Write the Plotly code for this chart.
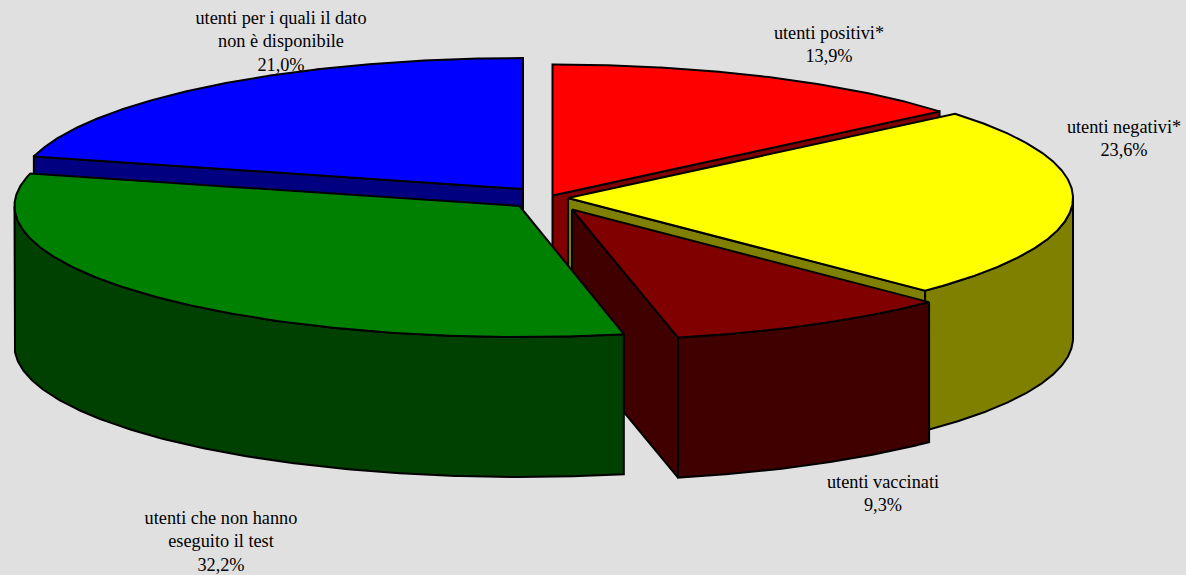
import numpy as np
import plotly.graph_objects as go

# --- data ---
categories = ["utenti positivi*", "utenti negativi*", "utenti vaccinati",
              "utenti che non hanno eseguito il test",
              "utenti per i quali il dato non è disponibile"]
shares = [13.9, 23.6, 9.3, 32.2, 21.0]
share_labels = ["13,9%", "23,6%", "9,3%", "32,2%", "21,0%"]
top_colors = ["#FF0000", "#FFFF00", "#800000", "#008000", "#0000FF"]
wall_colors = ["#800000", "#808000", "#400000", "#004000", "#000080"]

# --- pie geometry (pixels, degrees) ---
apex_x = [552.5, 568, 572, 519.5, 523]
apex_y = [195.5, 198, 209.5, 206, 189]
RX, RY, DEPTH = 505, 131, 140
start_nudge = [0, 0, 0, -0.4, 0]
end_nudge = [0, 0, -0.6, 0, 0]
draw_order = [4, 0, 1, 2, 3]

# --- label placement (pixels) ---
label_lines = [
    ["utenti positivi*", "13,9%"],
    ["utenti negativi*", "23,6%"],
    ["utenti vaccinati", "9,3%"],
    ["utenti che non hanno", "eseguito il test", "32,2%"],
    ["utenti per i quali il dato", "non è disponibile", "21,0%"],
]
label_x = [829, 1124, 883, 221, 281]
label_y = [34, 128, 483, 519, 19]
LINE_STEP = 23.7

fig = go.Figure()

# labels first: the pie paints over them where they touch
tx, ty, tt = [], [], []
for lines, x0, y0 in zip(label_lines, label_x, label_y):
    for i, s in enumerate(lines):
        tx.append(x0); ty.append(y0 + i * LINE_STEP); tt.append(s)
fig.add_trace(go.Scatter(x=tx, y=ty, text=tt, mode="text", textposition="middle center",
                         textfont=dict(family="Liberation Serif", size=18.3, color="#000000"),
                         hoverinfo="skip", showlegend=False))


def poly(xs, ys, color):
    fig.add_trace(go.Scatter(x=list(xs) + [xs[0]], y=list(ys) + [ys[0]], mode="lines",
                             fill="toself", fillcolor=color,
                             line=dict(color="#000000", width=2),
                             hoverinfo="skip", showlegend=False))


def px(cx, deg):
    return cx + RX * np.sin(np.radians(deg))


def py(cy, deg):
    return cy - RY * np.cos(np.radians(deg))


edges = np.concatenate([[0], np.cumsum(shares)]) * 3.6
for k in draw_order:
    a0, a1 = edges[k] + start_nudge[k], edges[k + 1] + end_nudge[k]
    cx, cy = apex_x[k], apex_y[k]
    wall = wall_colors[k]
    # radial walls that face the viewer
    if 0 < a1 < 180:
        ex, ey = px(cx, a1), py(cy, a1)
        poly([cx, ex, ex, cx], [cy, ey, ey + DEPTH, cy + DEPTH], wall)
    if 180 < a0 < 360:
        ex, ey = px(cx, a0), py(cy, a0)
        poly([cx, ex, ex, cx], [cy, ey, ey + DEPTH, cy + DEPTH], wall)
    # outer rim, front half only
    lo, hi = max(a0, 90), min(a1, 270)
    if lo < hi:
        t = np.linspace(lo, hi, 160)
        rx, ry = px(cx, t), py(cy, t)
        poly(np.concatenate([rx, rx[::-1]]), np.concatenate([ry, ry[::-1] + DEPTH]), wall)
    # top face
    t = np.linspace(a0, a1, 240)
    poly(np.concatenate([[cx], px(cx, t)]), np.concatenate([[cy], py(cy, t)]), top_colors[k])

fig.update_layout(
    width=1186, height=575, margin=dict(l=0, r=0, t=0, b=0),
    paper_bgcolor="#E0E0E0", plot_bgcolor="#E0E0E0", showlegend=False,
    xaxis=dict(range=[0, 1186], visible=False, fixedrange=True),
    yaxis=dict(range=[575, 0], visible=False, fixedrange=True),
)
fig.write_html("out.html", config={"displayModeBar": False},
               post_script="document.body.style.margin='0';document.body.style.background='#E0E0E0';")
